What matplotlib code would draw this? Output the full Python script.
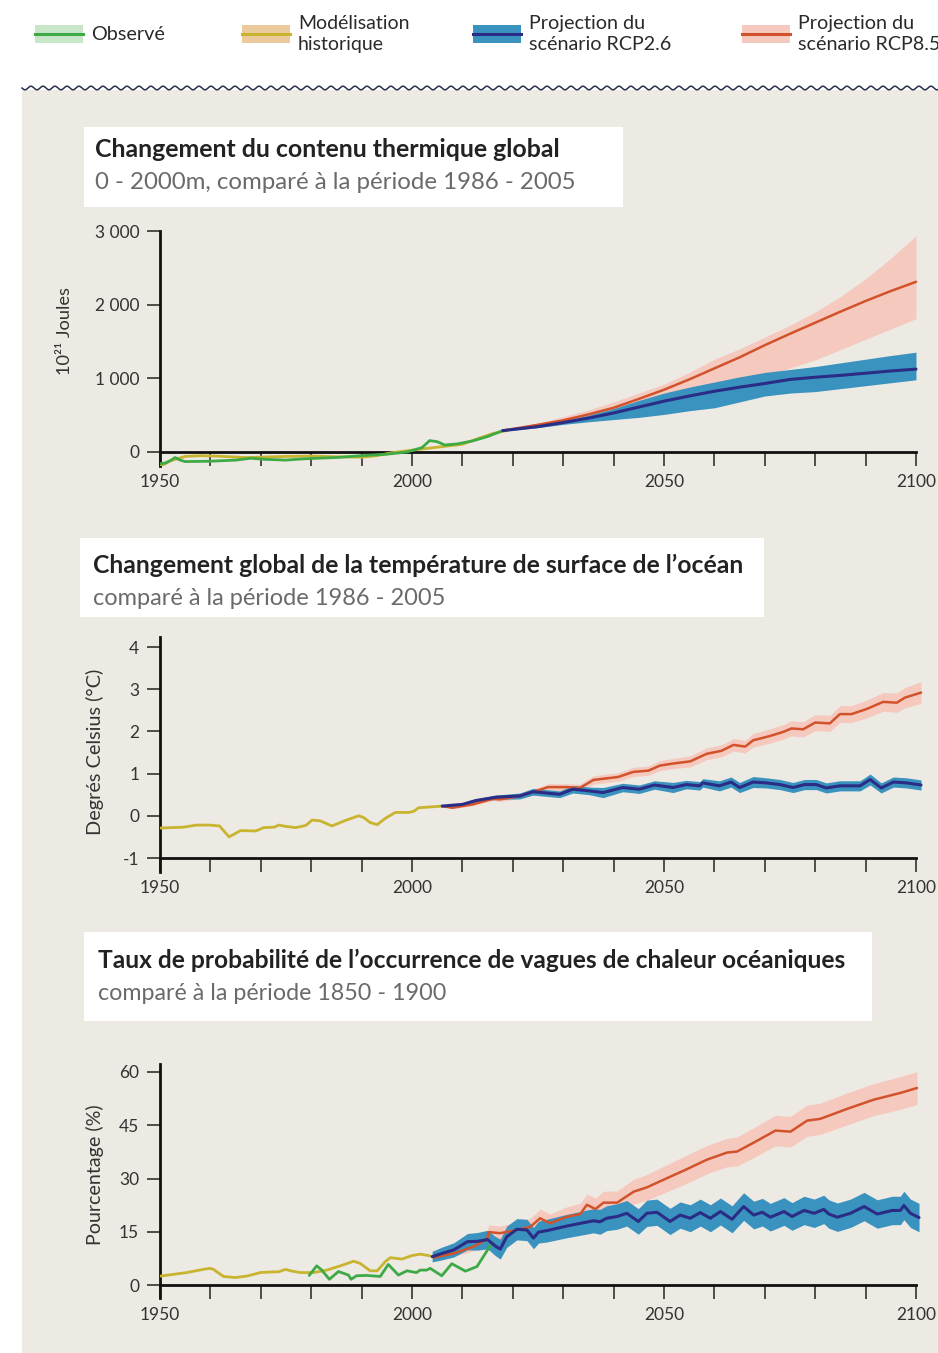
import numpy as np
import matplotlib
matplotlib.use('Agg')
import matplotlib.pyplot as plt
from matplotlib.patches import Rectangle
from matplotlib.lines import Line2D
from matplotlib.ticker import FixedLocator, FixedFormatter

plt.rcParams['font.family'] = ['Lato', 'DejaVu Sans']

# ====================== DATA ======================
x_ticks = [1950, 1960, 1970, 1980, 1990, 2000, 2010, 2020, 2030, 2040,
           2050, 2060, 2070, 2080, 2090, 2100]
x_tick_labels = ['1950', '', '', '', '', '2000', '', '', '', '',
                 '2050', '', '', '', '', '2100']

legend_labels = ['Observé', 'Modélisation\nhistorique',
                 'Projection du\nscénario RCP2.6', 'Projection du\nscénario RCP8.5']

titles = ['Changement du contenu thermique global',
          'Changement global de la température de surface de l\u2019océan',
          'Taux de probabilité de l\u2019occurrence de vagues de chaleur océaniques']
subtitles = ['0 - 2000m, comparé à la période 1986 - 2005',
             'comparé à la période 1986 - 2005',
             'comparé à la période 1850 - 1900']
ylabels = ['10²¹ Joules', 'Degrés Celsius (°C)', 'Pourcentage (%)']

# ---- Panel 1: ocean heat content (10^21 J)
p1_yticks = [0, 1000, 2000, 3000]
p1_ytick_labels = ['0', '1 000', '2 000', '3 000']
p1_obs_years = [1950, 1951, 1952, 1953, 1954, 1955, 1960, 1965, 1968, 1971,
                1975, 1978, 1981, 1985, 1990, 1995, 1999, 2002, 2003.5, 2005,
                2006.5, 2009, 2012, 2015, 2018]
p1_obs = [-160, -150, -120, -75, -110, -130, -125, -110, -85, -100,
          -110, -95, -85, -75, -50, -30, 0, 60, 155, 140,
          95, 110, 150, 210, 290]
p1_hist_years = [1950, 1952, 1955, 1958, 1961, 1964, 1967, 1970, 1975, 1980,
                 1985, 1990, 1993, 1996, 2000, 2005, 2010, 2013, 2016, 2019]
p1_hist = [-200, -120, -60, -50, -55, -65, -75, -70, -60, -55,
           -65, -70, -50, -10, 25, 65, 105, 180, 250, 295]
p1_proj_years = [2018, 2025, 2030, 2035, 2040, 2045, 2050, 2055, 2060, 2065,
                 2070, 2075, 2080, 2085, 2090, 2095, 2100]
p1_rcp26 = [290, 345, 400, 460, 530, 610, 690, 760, 825, 880,
            930, 985, 1015, 1040, 1070, 1100, 1125]
p1_rcp26_low = [285, 330, 375, 410, 440, 470, 510, 560, 600, 680,
                760, 800, 820, 860, 900, 940, 980]
p1_rcp26_high = [295, 360, 420, 500, 590, 700, 800, 880, 950, 1020,
                 1080, 1120, 1160, 1210, 1260, 1310, 1355]
p1_rcp85 = [290, 370, 430, 510, 600, 720, 845, 985, 1135, 1285,
            1450, 1605, 1755, 1905, 2050, 2185, 2310]
p1_rcp85_low = [285, 350, 410, 480, 560, 640, 720, 800, 880, 960,
                1040, 1140, 1250, 1390, 1530, 1670, 1810]
p1_rcp85_high = [295, 390, 480, 570, 680, 800, 920, 1080, 1260, 1400,
                 1560, 1720, 1900, 2110, 2350, 2630, 2935]

# ---- Panel 2: sea surface temperature change (°C)
p2_yticks = [-1, 0, 1, 2, 3, 4]
p2_ytick_labels = ['-1', '0', '1', '2', '3', '4']
p2_hist_years = [1950, 1954.6, 1957.2, 1959.8, 1961.8, 1963.7, 1966, 1969, 1970.6, 1972.6,
                 1973.6, 1974.9, 1976.9, 1978.9, 1980.2, 1981.8, 1984.1, 1986.8, 1989.4, 1990.4,
                 1991.7, 1993.1, 1994.7, 1996.7, 1999.4, 2000.4, 2001.3, 2006]
p2_hist = [-0.29, -0.27, -0.22, -0.22, -0.24, -0.50, -0.35, -0.36, -0.28, -0.27,
           -0.22, -0.25, -0.28, -0.23, -0.10, -0.12, -0.24, -0.11, 0.0, -0.04,
           -0.16, -0.21, -0.06, 0.08, 0.08, 0.11, 0.19, 0.23]
p2_rcp26_years = [2006, 2010, 2012.6, 2016.6, 2021.4, 2024, 2029.3, 2031.9, 2035.2, 2037.9,
                  2041.8, 2045.1, 2048.1, 2051.8, 2054.4, 2057.1, 2057.7, 2061, 2063.3, 2065,
                  2067.7, 2070.3, 2073, 2075.6, 2077.9, 2080.2, 2082.2, 2084.9, 2088.9, 2090.9,
                  2093.1, 2095.5, 2098.1, 2101]
p2_rcp26 = [0.23, 0.27, 0.36, 0.44, 0.47, 0.57, 0.51, 0.63, 0.59, 0.55,
            0.67, 0.63, 0.73, 0.67, 0.74, 0.71, 0.78, 0.71, 0.80, 0.67,
            0.80, 0.78, 0.74, 0.67, 0.74, 0.74, 0.66, 0.71, 0.71, 0.86,
            0.66, 0.80, 0.78, 0.73]
p2_rcp26_spread = [0.02, 0.03, 0.04, 0.05, 0.07, 0.08, 0.08, 0.09, 0.09, 0.12,
                   0.10, 0.10, 0.10, 0.12, 0.10, 0.10, 0.10, 0.12, 0.12, 0.12,
                   0.13, 0.12, 0.12, 0.12, 0.12, 0.12, 0.12, 0.12, 0.12, 0.13,
                   0.12, 0.12, 0.12, 0.12]
p2_rcp85_years = [2006, 2008, 2012, 2016, 2017.5, 2021.4, 2024.7, 2027, 2030.7, 2033.3,
                  2036, 2040.9, 2043.9, 2046.9, 2049.2, 2051.9, 2055.2, 2058.5, 2061.4, 2063.8,
                  2066.1, 2067.7, 2071, 2073.7, 2075.3, 2077.6, 2080, 2082.9, 2084.9, 2087.2,
                  2090.2, 2093.5, 2096.2, 2097.8, 2101]
p2_rcp85 = [0.23, 0.19, 0.27, 0.40, 0.39, 0.47, 0.59, 0.68, 0.68, 0.66,
            0.85, 0.92, 1.04, 1.07, 1.19, 1.24, 1.29, 1.47, 1.54, 1.68,
            1.64, 1.79, 1.89, 1.99, 2.07, 2.05, 2.21, 2.19, 2.41, 2.41,
            2.53, 2.70, 2.68, 2.80, 2.92]
p2_rcp85_spread = [0.01, 0.02, 0.03, 0.04, 0.05, 0.06, 0.07, 0.08, 0.08, 0.09,
                   0.10, 0.10, 0.11, 0.11, 0.12, 0.12, 0.13, 0.14, 0.14, 0.15,
                   0.15, 0.16, 0.17, 0.17, 0.18, 0.18, 0.19, 0.19, 0.20, 0.20,
                   0.21, 0.22, 0.23, 0.24, 0.26]

# ---- Panel 3: marine heatwave probability (%)
p3_yticks = [0, 15, 30, 45, 60]
p3_ytick_labels = ['0', '15', '30', '45', '60']
p3_hist_years = [1950, 1955.3, 1958.6, 1959.9, 1960.6, 1962.6, 1964.9, 1967.2, 1969.9, 1972.5,
                 1973.5, 1974.9, 1975.9, 1977.8, 1980.5, 1983.1, 1985.8, 1988.4, 1989.7, 1991.7,
                 1993.1, 1994.7, 1995.7, 1998.0, 2000.0, 2001.7, 2003.6]
p3_hist = [2.5, 3.5, 4.4, 4.7, 4.4, 2.4, 2.1, 2.5, 3.5, 3.7,
           3.7, 4.4, 4.0, 3.5, 3.5, 4.2, 5.4, 6.7, 6.1, 4.0,
           4.0, 6.6, 7.7, 7.3, 8.3, 8.7, 8.2]
p3_obs_years = [1979.6, 1981.1, 1982.1, 1983.6, 1985.4, 1987.4, 1987.9, 1989.0, 1991.0, 1993.7,
                1995.3, 1997.3, 1999.0, 2000.9, 2001.6, 2002.9, 2003.6, 2005.9, 2007.9, 2010.6,
                2012.9, 2015.9]
p3_obs = [2.7, 5.4, 4.2, 1.6, 3.8, 2.8, 1.6, 2.6, 2.7, 2.4,
          5.8, 2.8, 4.0, 3.5, 4.2, 4.2, 4.7, 2.6, 6.0, 3.9,
          5.2, 11.9]
p3_rcp26_years = [2004, 2006, 2008.3, 2011, 2013, 2015, 2016.5, 2017.5, 2018.8, 2020.8,
                  2022.8, 2024.1, 2025.1, 2026.7, 2030.7, 2036.0, 2037.3, 2038.6, 2040.7, 2042.6,
                  2044.9, 2046.6, 2048.6, 2051.2, 2053.2, 2055.2, 2057.2, 2059.2, 2061.2, 2063.5,
                  2065.8, 2067.8, 2069.5, 2071.1, 2073.8, 2075.4, 2077.8, 2079.8, 2081.7, 2082.7,
                  2084.4, 2087.0, 2089.7, 2092.3, 2095.3, 2096.9, 2097.6, 2098.9, 2100.6]
p3_rcp26 = [8.0, 8.9, 9.9, 12.2, 12.3, 12.8, 11.0, 10.1, 13.6, 15.7,
            15.5, 13.2, 14.9, 15.3, 16.6, 18.1, 17.8, 18.8, 19.3, 20.2,
            17.9, 20.2, 20.5, 17.9, 19.7, 18.8, 20.4, 18.8, 20.7, 18.5,
            22.1, 19.7, 20.5, 19.1, 20.7, 19.3, 21.0, 20.2, 21.3, 20.0,
            19.1, 20.2, 22.1, 20.0, 21.0, 21.0, 22.4, 20.2, 19.0]
p3_rcp26_spread = [1.5, 1.8, 2.0, 2.3, 2.5, 2.6, 2.7, 2.8, 3.0, 3.0,
                   3.0, 3.0, 3.1, 3.2, 3.3, 3.4, 3.5, 3.5, 3.6, 3.6,
                   3.6, 3.7, 3.7, 3.7, 3.7, 3.8, 3.8, 3.8, 3.8, 3.8,
                   3.9, 3.9, 3.9, 3.9, 3.9, 3.9, 4.0, 4.0, 4.0, 4.0,
                   4.0, 4.0, 4.0, 4.0, 4.0, 4.0, 4.0, 4.0, 4.0]
p3_rcp85_years = [2004.3, 2008.3, 2012.2, 2014.9, 2015.2, 2017.5, 2020.8, 2023.5, 2025.4, 2027.4,
                  2030.7, 2033.4, 2034.7, 2036.4, 2038.0, 2040.7, 2044.0, 2046.6, 2050.6, 2054.5,
                  2058.5, 2062.5, 2064.5, 2067.8, 2072.1, 2075.1, 2078.4, 2081.0, 2086.3, 2091.6,
                  2096.9, 2100.2]
p3_rcp85 = [7.7, 8.9, 10.8, 12.9, 14.9, 14.6, 15.5, 16.4, 18.8, 17.4,
            19.2, 20.0, 22.6, 21.4, 23.2, 23.2, 26.3, 27.5, 30.1, 32.6,
            35.3, 37.3, 37.6, 40.1, 43.5, 43.2, 46.3, 46.8, 49.6, 52.2,
            54.1, 55.5]
p3_rcp85_spread = [0.5, 0.8, 1.2, 1.8, 2.0, 2.0, 2.2, 2.4, 2.6, 2.6,
                   2.8, 3.0, 3.0, 3.1, 3.2, 3.3, 3.5, 3.6, 3.8, 4.0,
                   4.0, 4.0, 4.1, 4.2, 4.3, 4.3, 4.4, 4.4, 4.5, 4.5,
                   4.6, 4.6]

# ====================== STYLE ======================
W, H = 938, 1353
BEIGE = '#EDE9E3'
C_OBS, C_OBS_BG = '#3DAA46', '#C8E6C8'
C_HIST, C_HIST_BG = '#C8B42E', '#EBCB9B'
C_26, C_26_BAND = '#2A2C86', '#3A93BF'
C_85, C_85_BAND = '#D2522B', '#F5C9BE'
TXT = '#222222'
SUB = '#6A6A6A'
TICK = '#333333'

fig = plt.figure(figsize=(W / 100, H / 100), dpi=100)
fig.patch.set_facecolor('white')
renderer = fig.canvas.get_renderer()


def fx(x):
    return x / W


def fy(y):
    return 1 - y / H


def fit(t, target, dim='w'):
    bb = t.get_window_extent(renderer=renderer)
    cur = bb.width if dim == 'w' else bb.height
    t.set_fontsize(t.get_fontsize() * target / cur)
    return t


# background panel + wave
fig.add_artist(Rectangle((fx(22), 0), fx(938) - fx(22), fy(90), transform=fig.transFigure,
                         fc=BEIGE, ec='none', zorder=-10))
wx = np.arange(22, 938.5, 0.5)
wy = 88 + 1.8 * np.sin(2 * np.pi * (wx - 22) / 12.0)
fig.add_artist(Line2D(fx(wx), fy(wy), transform=fig.transFigure, color='#27304A', lw=1.1, zorder=-9))

# legend
leg_px = [35, 242, 473, 742]
leg_line = [C_OBS, C_HIST, C_26, C_85]
leg_bg = [C_OBS_BG, C_HIST_BG, C_26_BAND, C_85_BAND]
leg_w = [74, 111, 142, 142]
for i, lab in enumerate(legend_labels):
    x0 = leg_px[i]
    fig.add_artist(Rectangle((fx(x0), fy(43)), 48 / W, 18 / H, transform=fig.transFigure,
                             fc=leg_bg[i], ec='none'))
    fig.add_artist(Line2D([fx(x0), fx(x0 + 48)], [fy(34), fy(34)], transform=fig.transFigure,
                          color=leg_line[i], lw=2.2))
    t = fig.text(fx(x0 + 56), fy(34), lab, ha='left', va='center', fontsize=13,
                 color='#2a2a2a', linespacing=1.3)
    fit(t, leg_w[i])

# title boxes
boxes = [(84, 127, 623, 207), (80, 538, 764, 617), (84, 932, 872, 1021)]
title_pos = [(95, 157, 466, 189, 482), (93, 573, 652, 605, 353), (98, 968, 749, 1000, 349)]
for (x0, y0, x1, y1), (tx, ty, tw, sy, sw), ti, st in zip(boxes, title_pos, titles, subtitles):
    fig.add_artist(Rectangle((fx(x0), fy(y1)), (x1 - x0) / W, (y1 - y0) / H,
                             transform=fig.transFigure, fc='white', ec='none', zorder=-5))
    t = fig.text(fx(tx), fy(ty), ti, ha='left', va='baseline', fontsize=16,
                 fontweight='bold', color=TXT)
    fit(t, tw)
    s = fig.text(fx(tx), fy(sy), st, ha='left', va='baseline', fontsize=15, color=SUB)
    fit(s, sw)

PXYR = (916 - 160) / 150.0


def make_axes(zero_px, unit_px, ylim_top, ylim_bot, yzero, yticks, ylabels_):
    y_top_px = zero_px - (ylim_top - yzero) * unit_px
    y_bot_px = zero_px + (yzero - ylim_bot) * unit_px
    left = fx(160)
    width = (152 * PXYR) / W
    ax = fig.add_axes([left, fy(y_bot_px), width, (y_bot_px - y_top_px) / H])
    ax.set_xlim(1950, 2102)
    ax.set_ylim(ylim_bot, ylim_top)
    ax.patch.set_visible(False)
    for s in ['top', 'right']:
        ax.spines[s].set_visible(False)
    ax.spines['bottom'].set_position(('data', yzero))
    ax.spines['bottom'].set_bounds(1950, 2100)
    for s in ['left', 'bottom']:
        ax.spines[s].set_linewidth(2.0)
        ax.spines[s].set_color('#111111')
        ax.spines[s].set_capstyle('projecting')
    ax.xaxis.set_major_locator(FixedLocator(x_ticks))
    ax.xaxis.set_major_formatter(FixedFormatter(x_tick_labels))
    ax.yaxis.set_major_locator(FixedLocator(yticks))
    ax.yaxis.set_major_formatter(FixedFormatter(ylabels_))
    ax.tick_params(axis='x', direction='out', length=10, width=1.2, color=TICK,
                   labelsize=12.5, labelcolor=TICK, pad=5.5)
    ax.tick_params(axis='y', direction='out', length=9.5, width=1.2, color=TICK,
                   labelsize=12.5, labelcolor=TICK, pad=5.5)
    return ax


def line(ax, x, y, c, lw, z):
    ax.plot(x, y, color=c, lw=lw, zorder=z, solid_joinstyle='round', solid_capstyle='round')


# ---- Panel 1
ax1 = make_axes(452, 221 / 3000.0, 3000, -190, 0, p1_yticks, p1_ytick_labels)
ax1.fill_between(p1_proj_years, p1_rcp85_low, p1_rcp85_high, color=C_85_BAND, lw=0, zorder=1)
ax1.fill_between(p1_proj_years, p1_rcp26_low, p1_rcp26_high, color=C_26_BAND, lw=0, zorder=2)
line(ax1, p1_hist_years, p1_hist, C_HIST, 2.0, 3)
line(ax1, p1_obs_years, p1_obs, C_OBS, 2.0, 4)
line(ax1, p1_proj_years, p1_rcp85, C_85, 1.8, 5)
line(ax1, p1_proj_years, p1_rcp26, C_26, 2.2, 6)

# ---- Panel 2
ax2 = make_axes(858, 211 / 5.0, 4.24, -1.33, -1, p2_yticks, p2_ytick_labels)
r85 = np.array(p2_rcp85); s85 = np.array(p2_rcp85_spread)
r26 = np.array(p2_rcp26); s26 = np.array(p2_rcp26_spread)
ax2.fill_between(p2_rcp85_years, r85 - s85, r85 + s85, color=C_85_BAND, lw=0, zorder=1)
ax2.fill_between(p2_rcp26_years, r26 - s26, r26 + s26, color=C_26_BAND, lw=0, zorder=2)
line(ax2, p2_hist_years, p2_hist, C_HIST, 2.0, 3)
line(ax2, p2_rcp85_years, p2_rcp85, C_85, 1.8, 5)
line(ax2, p2_rcp26_years, p2_rcp26, C_26, 2.2, 6)

# ---- Panel 3
ax3 = make_axes(1285, 213 / 60.0, 62.25, -3.66, 0, p3_yticks, p3_ytick_labels)
r85 = np.array(p3_rcp85); s85 = np.array(p3_rcp85_spread)
r26 = np.array(p3_rcp26); s26 = np.array(p3_rcp26_spread)
ax3.fill_between(p3_rcp85_years, r85 - s85, r85 + s85, color=C_85_BAND, lw=0, zorder=1)
ax3.fill_between(p3_rcp26_years, r26 - s26, r26 + s26, color=C_26_BAND, lw=0, zorder=2)
line(ax3, p3_hist_years, p3_hist, C_HIST, 2.0, 3)
line(ax3, p3_obs_years, p3_obs, C_OBS, 2.0, 4)
line(ax3, p3_rcp85_years, p3_rcp85, C_85, 1.8, 5)
line(ax3, p3_rcp26_years, p3_rcp26, C_26, 2.2, 6)

# y labels
for (x, y, L), lab in zip([(65, 331, 88), (95, 752, 165), (95, 1175, 140)], ylabels):
    t = fig.text(fx(x), fy(y), lab, rotation=90, ha='center', va='center', fontsize=12, color=TICK)
    fit(t, L, dim='h')

fig.savefig('out.png', dpi=100)
